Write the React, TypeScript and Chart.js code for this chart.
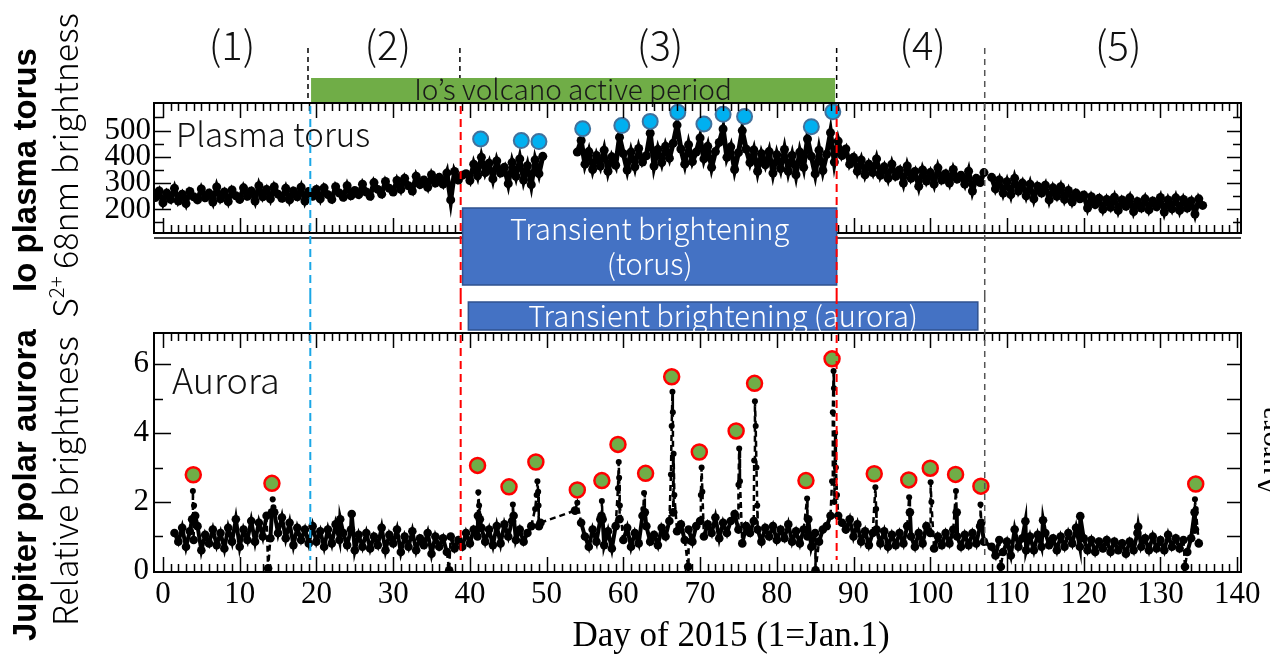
import React, { useEffect, useRef } from "react";
import { Chart, registerables } from "chart.js";

Chart.register(...registerables);

// ---------- axis ranges & tick labels ----------
const DAY_MIN = -1.17;
const DAY_MAX = 140.5;
const dayTickLabels = [0, 10, 20, 30, 40, 50, 60, 70, 80, 90, 100, 110, 120, 130, 140];
const torusTickLabels = [200, 300, 400, 500];
const auroraTickLabels = [0, 2, 4, 6];
const TORUS_MIN = 110;
const TORUS_MAX = 605;
const AURORA_MIN = -0.03;
const AURORA_MAX = 6.9;
const X_TITLE = "Day of 2015 (1=Jan.1)";

// ---------- data (sampled every half day) ----------
const STEP = 0.5;

const torusStartA = -1;
const torusA = [
  245, 270, 225, 262, 238, 280, 232, 258, 222, 268, 248,
  236, 278, 244, 262, 228, 285, 240, 266, 230, 274, 252,
  238, 282, 250, 270, 232, 290, 248, 276, 240, 286, 258,
  242, 280, 236, 270, 248, 284, 232, 268, 250, 276,
  240, 282, 256, 238, 286, 262, 246, 290, 252, 272,
  256, 296, 266, 250, 302, 276, 258, 306, 280, 266,
  310, 276, 318, 290, 270, 326, 294, 312, 284, 332,
  300, 322, 296, 338, 236, 344, 312, 330,
  336, 310, 372, 328, 398, 340, 376, 316, 384, 338,
  360, 298, 378, 326, 392, 312, 366, 294, 388, 336, 402,
];
const torusStartB = 54;
const torusB = [
  418, 462, 372, 420, 352, 405, 365, 425, 345, 400,
  368, 475, 412, 350, 418, 362, 432, 380, 404, 490,
  365, 428, 378, 440, 395, 452, 521, 430, 372, 446,
  382, 418, 472, 392, 440, 360, 420, 455, 506, 398,
  438, 352, 416, 500, 430, 378, 426, 345, 412, 370,
  420, 338, 408, 355, 428, 345, 405, 332, 418, 360,
  468, 402, 335, 425, 348, 410, 492, 380, 460, 405,
  430, 372, 398, 345, 388, 332, 372, 340, 392, 330,
  362, 318, 372, 326, 350, 300, 365, 318, 344, 288,
  350, 308, 340, 296, 358, 312, 336, 300, 352, 315,
  330, 296, 345, 270, 318, 302, 340,
];
const torusStartC = 108;
const torusC = [
  322, 278, 312, 262, 305, 256, 318, 270, 300, 252,
  296, 240, 288, 262, 292, 236, 282, 250, 286, 238,
  272, 228, 262, 240, 255, 205, 248, 218, 242, 200,
  238, 208, 246, 196, 236, 212, 244, 192, 230, 205,
  240, 198, 232, 210, 245, 190, 236, 202, 244, 196,
  238, 205, 232, 182, 240, 215,
];
const torusGapDays = [51.7, 107.5];

const torusPeakDays = [41.4, 46.7, 49.0, 54.7, 59.8, 63.5, 67.1, 70.5, 73.0, 75.8, 84.5, 87.3];
const torusPeakVals = [468, 462, 458, 507, 519, 535, 570, 525, 562, 554, 515, 572];

const auroraStartA = 1.5;
const auroraA = [
  1.1, 0.85, 1.25, 0.7, 1.15, 0.9, 1.3, 0.6, 1.05, 0.8,
  1.2, 0.75, 1.1, 0.65, 1.25, 0.85, 1.5, 0.7, 1.2, 0.9,
  1.45, 0.85, 1.4, 1.0, 1.6, 0.95, 1.7, 1.1, 1.55, 0.95,
  1.4, 0.75, 1.25, 0.9, 1.2, 0.8, 1.3, 0.85, 1.15, 0.7,
  1.2, 0.8, 1.35, 0.9, 1.1, 0.75, 1.2, 0.6, 1.05, 0.7,
  1.1, 0.65, 1.0, 0.75, 1.25, 0.6, 1.05, 0.8, 1.2, 0.55,
  1.0, 0.7, 1.15, 0.6, 0.95, 0.75, 1.1, 0.5, 1.0, 0.7,
  0.95, 0.55, 1.0, 0.65, 0.9, 0.7, 1.1, 0.8, 1.2, 1.0,
  1.25, 0.85, 1.2, 0.75, 1.3, 0.8, 1.35, 1.0, 1.45, 0.9,
  1.2, 0.85, 1.1, 1.3, 1.8, 1.3,
];
const auroraStartB = 54;
const auroraB = [
  1.98, 1.4, 1.0, 0.7, 1.2, 0.85, 1.5, 0.75, 1.15, 0.65,
  1.3, 1.5, 0.9, 1.25, 0.7, 1.1, 0.8, 1.6, 1.3, 0.85,
  1.05, 0.75, 1.25, 1.0, 1.45, 1.7, 1.15, 1.35, 0.9, 1.2,
  0.85, 1.3, 1.45, 1.0, 1.35, 1.1, 1.55, 0.95, 1.4, 1.1,
  1.45, 1.65, 1.2, 0.8, 1.3, 1.1, 1.45, 1.2, 0.85, 1.25,
  1.0, 1.3, 0.9, 1.2, 0.95, 1.35, 0.85, 1.15, 0.8, 1.2,
  1.0, 0.7, 1.1, 0.85, 1.2, 1.3, 1.6, 2.0, 1.6, 1.4,
  1.2, 1.5, 1.0, 1.35, 0.85, 1.15, 0.75, 1.1, 1.2, 0.8,
  1.15, 0.7, 1.05, 0.75, 1.1, 0.8, 1.3, 1.0, 0.7, 1.1,
  0.8, 1.3, 1.1, 0.65, 1.0, 0.75, 1.1, 0.8, 1.2, 1.0,
  0.7, 1.05, 0.75, 1.1, 0.8, 1.3, 0.85,
];
const auroraStartC = 108;
const auroraC = [
  0.7, 0.45, 0.9, 0.55, 0.85, 0.45, 1.2, 0.7, 0.95, 0.6,
  1.0, 0.6, 1.05, 0.7, 1.1, 0.75, 0.95, 0.6, 1.0, 0.7,
  1.1, 0.8, 1.25, 0.7, 0.95, 0.6, 0.9, 0.55, 0.85, 0.65,
  0.9, 0.55, 0.85, 0.6, 0.8, 0.5, 0.85, 0.6, 1.1, 0.7,
  0.95, 0.6, 1.0, 0.65, 0.9, 0.6, 1.05, 0.7, 0.95, 0.65,
  0.9, 0.55, 0.95, 1.2, 0.8,
];
// extra samples inside the short-lived spikes and dips
const auroraSpikeDays = [
  3.8, 3.9, 4.05, 4.2, 13.7, 14.2, 14.3, 14.4, 23.1, 24.6, 37.3,
  41.05, 41.1, 41.2, 41.3, 45.6, 45.7, 48.7, 48.8, 48.9, 48.95, 49.2, 53.7,
  57.15, 57.2, 57.3, 59.3, 59.4, 59.45, 59.55, 62.6, 62.7, 62.8,
  66.2, 66.3, 66.4, 66.45, 66.55, 66.65, 68.45, 70.1, 70.2, 70.3,
  75.0, 75.1, 75.2, 77.05, 77.15, 77.25, 77.35, 77.45, 83.95, 84.1, 85.05,
  87.2, 87.3, 87.4, 87.45, 87.6, 87.7, 87.85, 92.85, 92.95, 97.25, 97.35,
  100.05, 100.15, 103.35, 103.45, 106.55, 106.65, 109.2, 112.4, 114.7,
  119.55, 127.1, 133.2, 134.45, 134.5, 134.6,
];
const auroraSpikeVals = [
  1.5, 2.32, 1.9, 1.6, 0.08, 1.7, 2.08, 1.85, 1.5, 1.65, 0.02,
  1.6, 2.28, 1.9, 1.5, 1.93, 1.6, 2.2, 2.6, 2.3, 1.9, 1.4, 1.75,
  1.6, 2.03, 1.5, 2.4, 3.16, 2.7, 1.9, 1.8, 2.26, 1.7,
  2.8, 4.2, 5.2, 4.6, 3.4, 2.2, 0.12, 2.2, 3.0, 2.3,
  2.5, 3.55, 2.6, 3.2, 4.92, 4.2, 3.0, 1.9, 2.1, 1.5, 0.02,
  2.6, 4.6, 5.8, 5.3, 4.0, 3.0, 2.2, 2.43, 1.8, 2.14, 1.7,
  2.57, 2.0, 2.32, 1.7, 1.93, 1.4, 0.12, 1.44, 1.47,
  1.59, 1.28, 0.12, 1.7, 2.08, 1.8,
];

const auroraPeakDays = [3.95, 14.2, 41.0, 45.1, 48.6, 54.0, 57.2, 59.3, 62.9, 66.3, 69.9, 74.7, 77.1, 83.8, 87.2, 92.7, 97.2, 100.0, 103.3, 106.6, 134.6];
const auroraPeakVals = [2.79, 2.54, 3.06, 2.44, 3.16, 2.35, 2.62, 3.67, 2.83, 5.63, 3.45, 4.06, 5.44, 2.62, 6.15, 2.82, 2.64, 2.98, 2.8, 2.46, 2.52];

// ---------- annotation positions (in days) ----------
const regionLabels = ["(1)", "(2)", "(3)", "(4)", "(5)"];
const regionLabelDays = [9, 29.3, 64.8, 99, 124.5];
const topDividerDays = [18.9, 38.7, 87.8];
const blueLineDay = 19.2;
const redLineDays = [38.8, 87.8];
const greyLineDay = 107.1;
const volcanoSpan = [19.3, 87.6];
const torusBoxSpan = [39.05, 87.8];
const auroraBoxSpan = [39.8, 106.2];

// ---------- helpers ----------
const seg = (start: number, vals: number[]) => vals.map((v, i) => ({ x: start + i * STEP, y: v }));
const pairs = (xs: number[], ys: number[]) => xs.map((x, i) => ({ x, y: ys[i] }));

const SERIF = '"Liberation Serif", "Times New Roman", serif';
const JP = '"Noto Sans CJK JP", "Noto Sans", sans-serif';

const TOP_H = 296;
const BOT_TOP = 296;
const BOT_H = 371;
const SPIKE_LEVEL = 1.75;

function vline(ctx: CanvasRenderingContext2D, x: number, y0: number, y1: number, color: string, w: number, dash: number[]) {
  ctx.save();
  ctx.strokeStyle = color;
  ctx.lineWidth = w;
  ctx.setLineDash(dash);
  ctx.beginPath();
  ctx.moveTo(x, y0);
  ctx.lineTo(x, y1);
  ctx.stroke();
  ctx.restore();
}

function seg2(ctx: CanvasRenderingContext2D, x0: number, y0: number, x1: number, y1: number) {
  ctx.moveTo(x0, y0);
  ctx.lineTo(x1, y1);
}

function drawXTicks(ctx: CanvasRenderingContext2D, chart: any) {
  const ca = chart.chartArea;
  const x = chart.scales.x;
  ctx.save();
  ctx.strokeStyle = "#000";
  ctx.lineWidth = 1.5;
  ctx.beginPath();
  for (let d = 0; d <= 140; d++) {
    const px = Math.round(x.getPixelForValue(d)) + 0.5;
    const L = d % 10 === 0 ? 15 : 8;
    seg2(ctx, px, ca.top, px, ca.top + L);
    seg2(ctx, px, ca.bottom, px, ca.bottom - L);
  }
  ctx.stroke();
  ctx.restore();
}

function drawFrame(ctx: CanvasRenderingContext2D, ca: any) {
  ctx.save();
  ctx.strokeStyle = "#000";
  ctx.lineWidth = 2;
  ctx.strokeRect(ca.left, ca.top, ca.right - ca.left, ca.bottom - ca.top);
  ctx.restore();
}

function box(ctx: CanvasRenderingContext2D, x0: number, y0: number, x1: number, y1: number, lines: string[], size: number, lineGap: number) {
  ctx.save();
  ctx.fillStyle = "#4472C4";
  ctx.fillRect(x0, y0, x1 - x0, y1 - y0);
  ctx.strokeStyle = "#2F528F";
  ctx.lineWidth = 1.5;
  ctx.strokeRect(x0, y0, x1 - x0, y1 - y0);
  ctx.fillStyle = "#fff";
  ctx.font = `300 ${size}px ${JP}`;
  ctx.textAlign = "center";
  ctx.textBaseline = "middle";
  const cx = (x0 + x1) / 2;
  const cy = (y0 + y1) / 2;
  lines.forEach((t, i) => {
    ctx.fillText(t, cx, cy + (i - (lines.length - 1) / 2) * lineGap);
  });
  ctx.restore();
}

const topDecor = {
  id: "topDecor",
  afterDatasetsDraw(chart: any) {
    const { ctx, chartArea: ca } = chart;
    const x = chart.scales.x;
    const y = chart.scales.y;
    const px = (d: number) => x.getPixelForValue(d);

    topDividerDays.forEach((d) => vline(ctx, px(d), 48, ca.top, "#000", 1.5, [5, 4]));

    ctx.save();
    ctx.fillStyle = "#70AD47";
    ctx.fillRect(px(volcanoSpan[0]), 78, px(volcanoSpan[1]) - px(volcanoSpan[0]), ca.top - 78);
    ctx.fillStyle = "#1a1a1a";
    ctx.font = `300 28px ${JP}`;
    ctx.textAlign = "center";
    ctx.textBaseline = "middle";
    ctx.fillText("Io\u2019s volcano active period", (px(volcanoSpan[0]) + px(volcanoSpan[1])) / 2, 89);
    ctx.restore();

    ctx.save();
    ctx.fillStyle = "#111";
    ctx.font = `300 40px ${JP}`;
    ctx.textAlign = "center";
    ctx.textBaseline = "middle";
    regionLabels.forEach((t, i) => ctx.fillText(t, px(regionLabelDays[i]), 45));
    ctx.restore();

    drawFrame(ctx, ca);
    drawXTicks(ctx, chart);

    ctx.save();
    ctx.strokeStyle = "#000";
    ctx.lineWidth = 1.5;
    ctx.beginPath();
    for (let v = 150; v <= 600; v += 50) {
      const py = Math.round(y.getPixelForValue(v)) + 0.5;
      if (py < ca.top + 2 || py > ca.bottom - 2) continue;
      const major = v % 100 === 0;
      seg2(ctx, ca.left, py, ca.left + (major ? 17 : 10), py);
      seg2(ctx, ca.right, py, ca.right - (major ? 14 : 8), py);
    }
    ctx.stroke();
    ctx.beginPath();
    seg2(ctx, ca.left, ca.bottom + 5, ca.right, ca.bottom + 5);
    ctx.stroke();
    ctx.restore();

    ctx.save();
    ctx.fillStyle = "#111";
    ctx.font = `300 33px ${JP}`;
    ctx.textAlign = "left";
    ctx.textBaseline = "middle";
    ctx.fillText("Plasma torus", 176, 134);
    ctx.restore();

    box(ctx, px(torusBoxSpan[0]), 208, px(torusBoxSpan[1]), 285, ["Transient brightening", "(torus)"], 29, 35);

    vline(ctx, px(greyLineDay), 48, TOP_H, "#555", 1.5, [6, 5]);
    vline(ctx, px(blueLineDay), ca.top + 3, TOP_H, "#1AA7E6", 2, [8, 5]);
    redLineDays.forEach((d) => vline(ctx, px(d), ca.top + 3, TOP_H, "#FF0000", 2, [8, 5]));
  },
};

const botDecor = {
  id: "botDecor",
  afterDatasetsDraw(chart: any) {
    const { ctx, chartArea: ca } = chart;
    const x = chart.scales.x;
    const y = chart.scales.y;
    const px = (d: number) => x.getPixelForValue(d);

    box(ctx, px(auroraBoxSpan[0]), 302 - BOT_TOP, px(auroraBoxSpan[1]), 330 - BOT_TOP, ["Transient brightening (aurora)"], 29, 0);

    drawFrame(ctx, ca);
    drawXTicks(ctx, chart);

    ctx.save();
    ctx.strokeStyle = "#000";
    ctx.lineWidth = 1.5;
    ctx.beginPath();
    for (let v = 1; v <= 6; v++) {
      const py = Math.round(y.getPixelForValue(v)) + 0.5;
      const major = v % 2 === 0;
      seg2(ctx, ca.left, py, ca.left + (major ? 17 : 9), py);
      seg2(ctx, ca.right, py, ca.right - 14, py);
    }
    ctx.stroke();
    ctx.restore();

    ctx.save();
    ctx.fillStyle = "#111";
    ctx.font = `300 36px ${JP}`;
    ctx.textAlign = "left";
    ctx.textBaseline = "middle";
    ctx.fillText("Aurora", 172, 380 - BOT_TOP);
    ctx.fillStyle = "#000";
    ctx.font = `35px ${SERIF}`;
    ctx.textAlign = "center";
    ctx.fillText(X_TITLE, 731, 637 - BOT_TOP);
    ctx.restore();

    const yEnd = 560 - BOT_TOP;
    vline(ctx, px(greyLineDay), 0, yEnd, "#555", 1.5, [6, 5]);
    vline(ctx, px(blueLineDay), 0, yEnd, "#1AA7E6", 2, [8, 5]);
    redLineDays.forEach((d) => vline(ctx, px(d), 0, yEnd, "#FF0000", 2, [8, 5]));
  },
};

function RotText({ left, top, style, children }: any) {
  return (
    <div
      style={{
        position: "absolute",
        left,
        top,
        transformOrigin: "0 0",
        transform: "rotate(-90deg)",
        whiteSpace: "nowrap",
        lineHeight: 1,
        color: "#000",
        ...style,
      }}
    >
      {children}
    </div>
  );
}

const isSpikeSeg = (c: any) =>
  c.p0.parsed.y > SPIKE_LEVEL || c.p1.parsed.y > SPIKE_LEVEL || c.p1.parsed.x - c.p0.parsed.x > 1 ||
  c.p0.parsed.y < 0.3 || c.p1.parsed.y < 0.3;

export default function App() {
  const topRef = useRef<HTMLCanvasElement>(null);
  const botRef = useRef<HTMLCanvasElement>(null);

  useEffect(() => {
    const torusData: any[] = [
      ...seg(torusStartA, torusA),
      { x: torusGapDays[0], y: null },
      ...seg(torusStartB, torusB),
      { x: torusGapDays[1], y: null },
      ...seg(torusStartC, torusC),
    ];
    const auroraData = [
      ...seg(auroraStartA, auroraA),
      ...seg(auroraStartB, auroraB),
      ...seg(auroraStartC, auroraC),
      ...pairs(auroraSpikeDays, auroraSpikeVals),
    ].sort((a, b) => a.x - b.x);

    const common: any = {
      responsive: false,
      animation: false,
      devicePixelRatio: 1,
      events: [],
      plugins: { legend: { display: false }, tooltip: { enabled: false } },
    };

    const top = new Chart(topRef.current as HTMLCanvasElement, {
      type: "scatter",
      data: {
        datasets: [
          {
            data: pairs(torusPeakDays, torusPeakVals),
            showLine: false,
            pointRadius: 7.5,
            pointBackgroundColor: "#00B0F0",
            pointBorderColor: "#41719C",
            pointBorderWidth: 2,
            clip: false,
          } as any,
          {
            data: torusData,
            showLine: true,
            spanGaps: false,
            borderColor: "#000",
            borderWidth: 5,
            pointRadius: 4.5,
            pointBackgroundColor: "#000",
            pointBorderWidth: 0,
          } as any,
        ],
      },
      options: {
        ...common,
        layout: { padding: { left: 0, right: 29, top: 103, bottom: TOP_H - 233 } },
        scales: {
          x: { type: "linear", min: DAY_MIN, max: DAY_MAX, display: false },
          y: {
            type: "linear",
            min: TORUS_MIN,
            max: TORUS_MAX,
            afterFit: (s: any) => {
              s.width = 154;
            },
            afterBuildTicks: (s: any) => {
              s.ticks = torusTickLabels.map((v) => ({ value: v }));
            },
            grid: { display: false, drawTicks: false },
            border: { display: false },
            ticks: { color: "#000", padding: 3, font: { family: SERIF, size: 31 } },
          },
        },
      },
      plugins: [topDecor],
    });

    const bot = new Chart(botRef.current as HTMLCanvasElement, {
      type: "scatter",
      data: {
        datasets: [
          {
            data: pairs(auroraPeakDays, auroraPeakVals),
            showLine: false,
            pointRadius: 7.5,
            pointBackgroundColor: "#70AD47",
            pointBorderColor: "#FF0000",
            pointBorderWidth: 2.5,
            clip: false,
          } as any,
          {
            data: auroraData,
            showLine: true,
            spanGaps: true,
            borderColor: "#000",
            borderWidth: 2.5,
            segment: {
              borderDash: (c: any) => (isSpikeSeg(c) ? [6, 4] : []),
              borderWidth: (c: any) => (isSpikeSeg(c) ? 2.5 : 4),
            },
            pointRadius: (c: any) => (c.raw && c.raw.y > SPIKE_LEVEL ? 3 : 4.3),
            pointBackgroundColor: "#000",
            pointBorderWidth: 0,
          } as any,
        ],
      },
      options: {
        ...common,
        layout: { padding: { left: 0, right: 29, top: 333 - BOT_TOP, bottom: 0 } },
        scales: {
          x: {
            type: "linear",
            min: DAY_MIN,
            max: DAY_MAX,
            position: "bottom",
            afterFit: (s: any) => {
              s.height = BOT_H - (572 - BOT_TOP);
            },
            afterBuildTicks: (s: any) => {
              s.ticks = dayTickLabels.map((v) => ({ value: v }));
            },
            grid: { display: false, drawTicks: false },
            border: { display: false },
            ticks: { color: "#000", padding: 4, maxRotation: 0, autoSkip: false, font: { family: SERIF, size: 31 } },
          },
          y: {
            type: "linear",
            min: AURORA_MIN,
            max: AURORA_MAX,
            afterFit: (s: any) => {
              s.width = 154;
            },
            afterBuildTicks: (s: any) => {
              s.ticks = auroraTickLabels.map((v) => ({ value: v }));
            },
            grid: { display: false, drawTicks: false },
            border: { display: false },
            ticks: { color: "#000", padding: 5, font: { family: SERIF, size: 31 } },
          },
        },
      },
      plugins: [botDecor],
    });

    return () => {
      top.destroy();
      bot.destroy();
    };
  }, []);

  return (
    <div
      style={{
        position: "fixed",
        left: 0,
        top: 0,
        width: 1270,
        height: 667,
        background: "#fff",
        overflow: "hidden",
      }}
    >
      <canvas ref={topRef} width={1270} height={TOP_H} style={{ position: "absolute", left: 0, top: 0 }} />
      <canvas ref={botRef} width={1270} height={BOT_H} style={{ position: "absolute", left: 0, top: BOT_TOP }} />
      <RotText left={6} top={292} style={{ font: `bold 33px "Liberation Sans", Arial, sans-serif` }}>
        Io plasma torus
      </RotText>
      <RotText left={6} top={641} style={{ font: `bold 33px "Liberation Sans", Arial, sans-serif` }}>
        Jupiter polar aurora
      </RotText>
      <RotText left={39} top={318} style={{ font: `300 34px ${JP}` }}>
        S<sup style={{ fontSize: "0.6em", verticalAlign: "0.7em" }}>2+</sup> 68nm brightness
      </RotText>
      <RotText left={39} top={626} style={{ font: `300 34px ${JP}` }}>
        Relative brightness
      </RotText>
      <RotText left={1250} top={497} style={{ font: `32px ${SERIF}` }}>
        Aurora
      </RotText>
    </div>
  );
}
